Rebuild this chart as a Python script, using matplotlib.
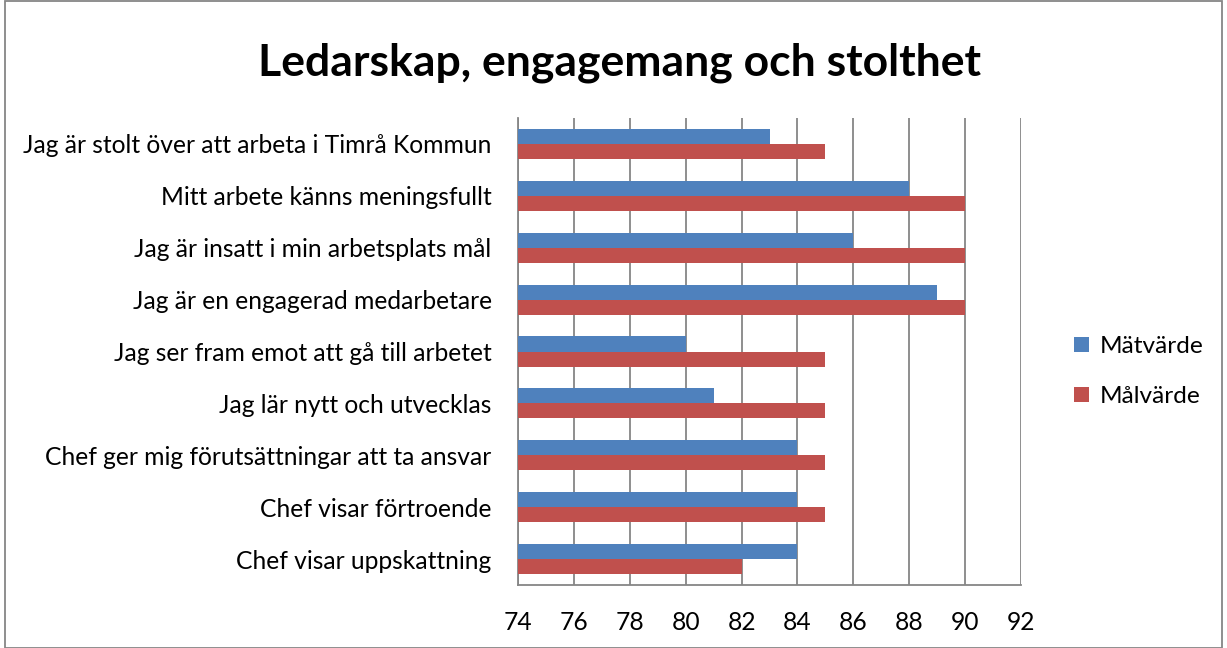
import matplotlib
matplotlib.use("Agg")
import matplotlib.pyplot as plt
import numpy as np
from matplotlib.patches import Rectangle

CATEGORIES = [
    "Jag är stolt över att arbeta i Timrå Kommun",
    "Mitt arbete känns meningsfullt",
    "Jag är insatt i min arbetsplats mål",
    "Jag är en engagerad medarbetare",
    "Jag ser fram emot att gå till arbetet",
    "Jag lär nytt och utvecklas",
    "Chef ger mig förutsättningar att ta ansvar",
    "Chef visar förtroende",
    "Chef visar uppskattning",
]
MATVARDE = [83, 88, 86, 89, 80, 81, 84, 84, 84]
MALVARDE = [85, 90, 90, 90, 85, 85, 85, 85, 82]
X_TICKS = [74, 76, 78, 80, 82, 84, 86, 88, 90, 92]

BLUE = "#4F81BD"
RED = "#C0504D"
GRID = "#868686"

plt.rcParams["font.family"] = ["Lato", "DejaVu Sans"]

fig = plt.figure(figsize=(12.27, 6.48), dpi=100)
ax = fig.add_axes([0.4222, 0.0972, 0.4099, 0.7207])

n = len(CATEGORIES)
y = np.arange(n)[::-1].astype(float)
h = 0.29
base = X_TICKS[0]
ax.barh(y + h / 2, np.array(MATVARDE) - base, left=base, height=h,
        color=BLUE, label="Mätvärde", zorder=3)
ax.barh(y - h / 2, np.array(MALVARDE) - base, left=base, height=h,
        color=RED, label="Målvärde", zorder=3)

ax.set_xlim(X_TICKS[0], X_TICKS[-1])
ax.set_ylim(-0.5, n - 0.5)
ax.set_xticks(X_TICKS)
ax.set_yticks(y)
ax.set_yticklabels(CATEGORIES, fontsize=17.7)
ax.tick_params(axis="x", labelsize=17.7, length=0, pad=19)
ax.tick_params(axis="y", length=0, pad=19)
ax.xaxis.grid(True, color=GRID, linewidth=1.3, zorder=0)
for side in ["top", "right"]:
    ax.spines[side].set_visible(False)
ax.spines["left"].set_color(GRID)
ax.spines["bottom"].set_color(GRID)
ax.spines["left"].set_linewidth(1.3)
ax.spines["bottom"].set_linewidth(1.3)

fig.suptitle("Ledarskap, engagemang och stolthet", x=0.505, y=0.935,
             fontsize=32, fontweight="bold")

ax.legend(loc="center left", bbox_to_anchor=(1.062, 0.457), frameon=False,
          fontsize=17.6, handlelength=0.6, handleheight=0.6,
          handletextpad=0.45, labelspacing=1.2)

fig.patches.append(Rectangle((0.004, 0.0), 0.992, 0.998, transform=fig.transFigure,
                             fill=False, edgecolor=GRID, linewidth=1.3))

fig.savefig("out.png", dpi=100)
